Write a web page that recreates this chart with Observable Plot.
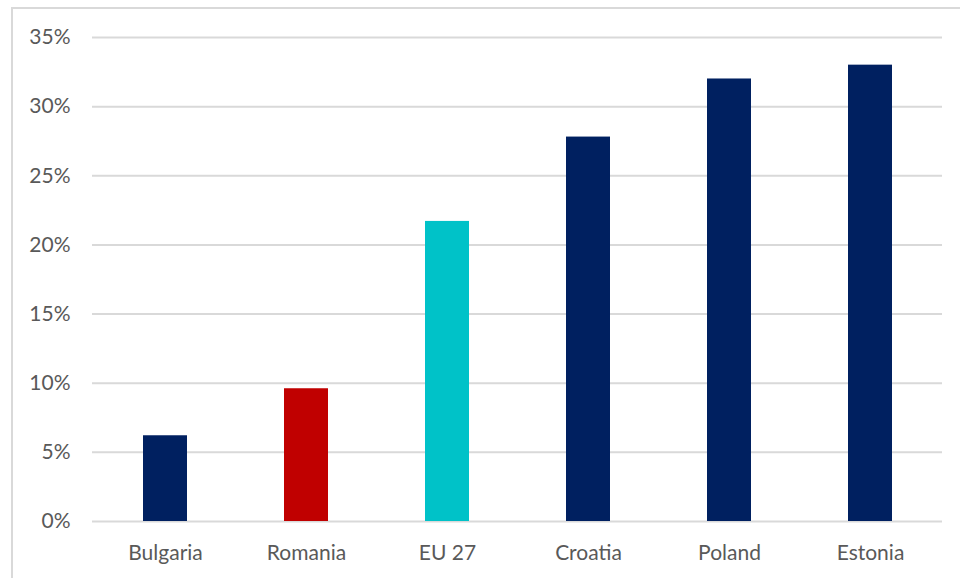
<!DOCTYPE html>
<html><head><meta charset="utf-8">
<script src="https://cdn.jsdelivr.net/npm/d3@7"></script>
<script src="https://cdn.jsdelivr.net/npm/@observablehq/plot@0.6"></script>
<style>
html,body{margin:0;padding:0;background:#fff;}
#wrap{position:relative;width:960px;height:578px;overflow:hidden;}
#border{position:absolute;left:11px;top:7px;width:1000px;height:700px;border:2px solid #d9d9d9;box-sizing:border-box;}
#chart{position:absolute;left:0;top:0;}
#chart svg text{font-family:Lato,'Open Sans',sans-serif !important;font-size:21px !important;fill:#595959;}
</style>
</head><body>
<div id="wrap"><div id="border"></div><div id="chart"></div></div>
<script>
const countries = ["Bulgaria","Romania","EU 27","Croatia","Poland","Estonia"];
const shares = [6.2, 9.6, 21.7, 27.8, 32.0, 33.0];
const barColors = ["#002060","#C00000","#00C2C8","#002060","#002060","#002060"];
const yTicks = [0,5,10,15,20,25,30,35];

const data = countries.map((c,i)=>({country:c, value:shares[i], color:barColors[i]}));

const chart = Plot.plot({
  width: 960, height: 578,
  marginLeft: 92, marginRight: 18, marginTop: 37, marginBottom: 57,
  style: {fontFamily: "Lato, 'Open Sans', sans-serif", fontSize: "21px", color: "#595959", background: "transparent"},
  x: {domain: countries, paddingInner: 0.69, paddingOuter: 0.345, label: null},
  y: {domain: [0,35], label: null},
  marks: [
    Plot.gridY(yTicks, {stroke: "#d9d9d9", strokeOpacity: 1, strokeWidth: 2}),
    Plot.barY(data, {x: "country", y: "value", fill: "color"}),
    Plot.axisY(yTicks, {tickFormat: d => d + "%", tickSize: 0, tickPadding: 22, label: null}),
    Plot.axisX({tickSize: 0, tickPadding: 24, label: null})
  ]
});
document.getElementById("chart").appendChild(chart);
</script>
</body></html>
